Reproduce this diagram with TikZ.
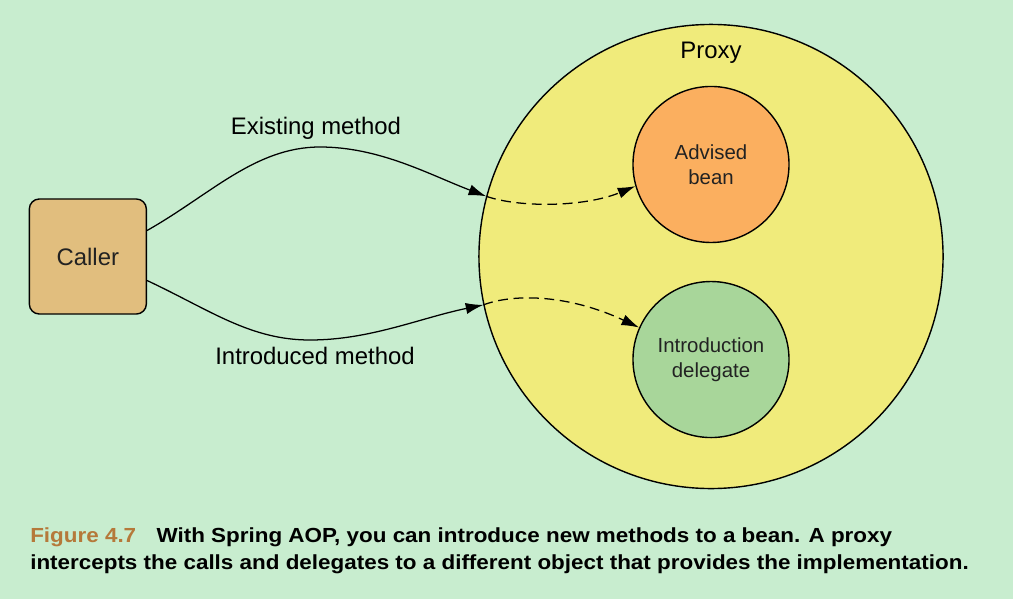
\documentclass[tikz,border=0pt]{standalone}
\usepackage{fontspec}
\setmainfont{Liberation Sans}
\newfontfamily\capfont[FakeStretch=1.1]{Liberation Sans}
\usetikzlibrary{positioning, arrows.meta}

\definecolor{bgcol}{HTML}{C8EDCF}
\definecolor{proxycol}{HTML}{F0EB7B}
\definecolor{beancol}{HTML}{FBAF5F}
\definecolor{delegatecol}{HTML}{A8D69A}
\definecolor{callercol}{HTML}{E1BE7E}
\definecolor{figcol}{HTML}{B5793A}
\definecolor{textgray}{HTML}{222222}

\begin{document}
\begin{tikzpicture}[x=0.025cm, y=-0.025cm, node distance=2cm, on grid,
		>={Latex[length=12.5pt, width=8pt]},
		ring/.style={circle, draw, line width=1pt, inner sep=0pt, align=center, text=textgray, font=\fontsize{14.5}{17.5}\selectfont},
		call/.style={->, line width=0.9pt},
		pass/.style={->, line width=0.9pt, dash pattern=on 7pt off 4pt},
		tag/.style={font=\fontsize{17}{20}\selectfont},
		caption/.style={anchor=base west, inner sep=0pt, font=\capfont\bfseries\fontsize{14.5}{17}\selectfont}]
			\fill[bgcol] (0,0) rectangle (1013,599);

			\node[ring, fill=proxycol, minimum size=11.6cm] (proxy) at (711,256.5) {};
			\node[tag] (proxyname) at ([yshift=-0.72cm]proxy.north) {Proxy};
			\node[ring, fill=beancol, minimum size=3.9cm, above=2.3cm of proxy] (bean) {Advised\\bean};
			\node[ring, fill=delegatecol, minimum size=3.9cm, below=2.575cm of proxy] (delegate) {Introduction\\delegate};
			\node[draw, fill=callercol, rounded corners=0.25cm, line width=1pt, minimum width=2.925cm, minimum height=2.875cm, text=textgray, tag, left=15.575cm of proxy] (caller) {Caller};

			\draw[call] ([yshift=0.65cm]caller.east) .. controls (210,195) and (255,147) .. (320,147) .. controls (380,147) and (430,175) .. (proxy.165);
			\draw[pass] (proxy.165) .. controls (520,208) and (585,207) .. (bean.196);
			\draw[call] ([yshift=-0.6cm]caller.east) .. controls (210,310) and (250,340) .. (310,340) .. controls (370,340) and (420,318) .. (proxy.192);
			\draw[pass] (proxy.192) .. controls (515,293) and (570,295) .. (delegate.156);

			\node[tag] (existing) at (316,128) {Existing method};
			\node[tag] (introduced) at (315,356) {Introduced method};

			\node[caption] (caption1) at (30,542) {\textcolor{figcol}{Figure 4.7}\hspace{1em}With Spring AOP, you can introduce new methods to a bean. A proxy};
			\node[caption] (caption2) at (30,569) {intercepts the calls and delegates to a different object that provides the implementation.};
		\end{tikzpicture}
\end{document}
